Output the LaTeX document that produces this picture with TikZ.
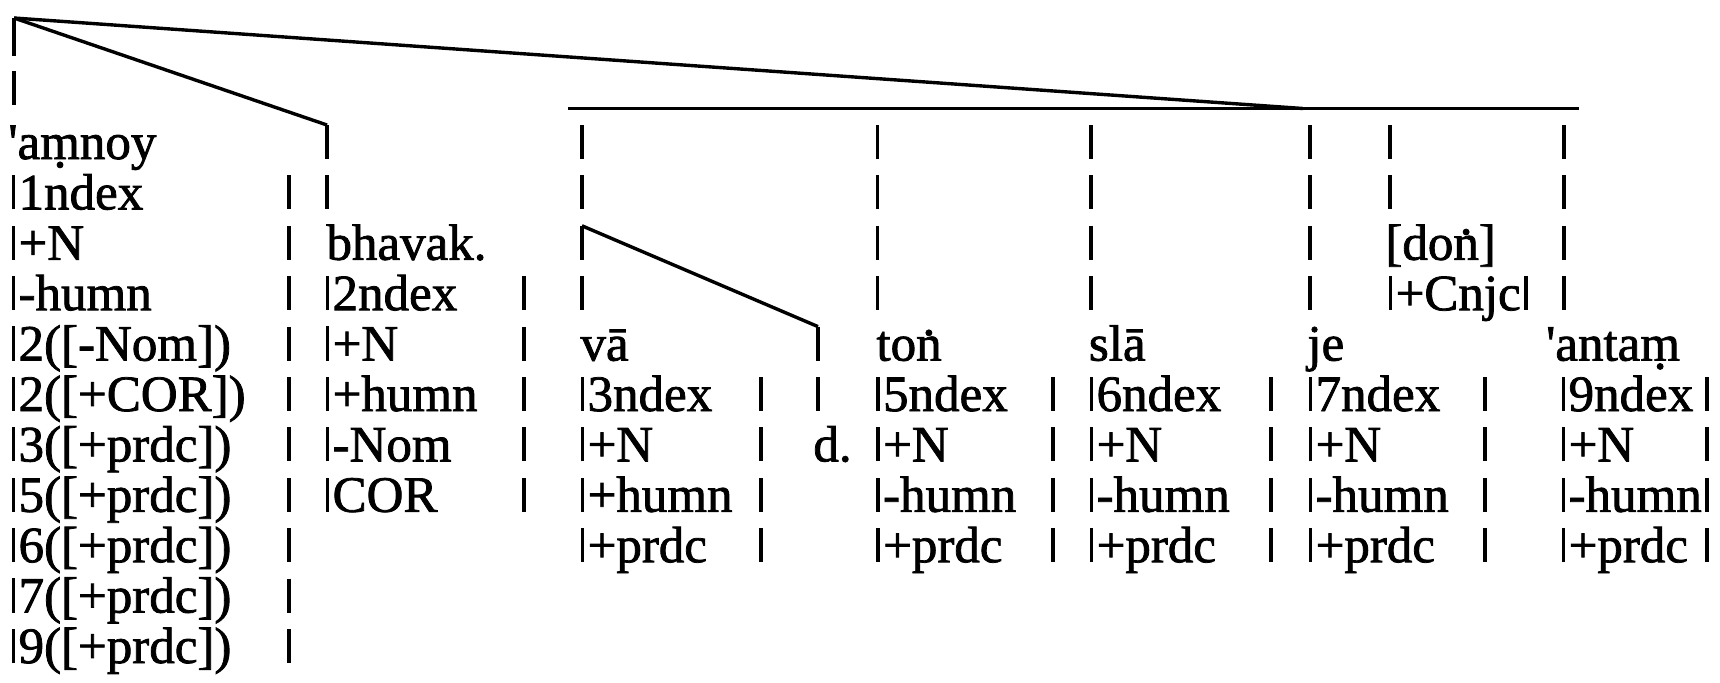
\documentclass[tikz,border=0pt]{standalone}
\usepackage{fontspec}
\setmainfont{Liberation Serif}[FakeBold=1.5]
\usetikzlibrary{calc}

\newcommand{\pipe}{\hspace{0.067em}\rule{0.068em}{0.67em}\hspace{0.065em}}
\newcommand{\dotunder}[1]{\ooalign{#1\cr\hidewidth\raisebox{-0.16em}{.}\hidewidth\cr}}
\newcommand{\dotover}[1]{\ooalign{#1\cr\hidewidth\raisebox{0.5em}{.}\hidewidth\cr}}

\begin{document}
\begin{tikzpicture}[x=0.5pt,y=-0.5pt,
	tree/.style={line width=1.7pt},
	bars/.style={line width=1.75pt, dash pattern=on 17pt off 8.2pt},
	topbars/.style={line width=1.7pt, dash pattern=on 19pt off 7.5pt on 17pt off 10pt},
	feat/.style={anchor=base west, inner sep=0pt, align=left, font=\fontsize{25.5pt}{25.2pt}\selectfont}]
	\useasboundingbox (0,0) rectangle (1720,682);
	% baselines and bar tops of the rows
	\foreach \k in {0,...,10} {
		\coordinate (r\k) at (0,{159+50.4*\k});
		\coordinate (t\k) at (0,{125+50.4*\k});
	}
	\coordinate (apex) at (14,18);
	\coordinate (join) at (1303,108.5);
	\coordinate (hlL) at (568,108.5);
	\coordinate (hlR) at (1579,108.5);
	\coordinate (cbh) at (327,108.5);
	\coordinate (cva) at (582,108.5);
	\coordinate (cd) at (818,108.5);
	\coordinate (cton) at (877.5,108.5);
	\coordinate (csla) at (1091,108.5);
	\coordinate (cje) at (1310,108.5);
	\coordinate (cdon) at (1390,108.5);
	\coordinate (cant) at (1564,108.5);

	% words with their features (placed at the baseline of the last line)
	\node[feat] (amnoy) at (8,663) {\textquotesingle a\dotunder{m}noy\\\pipe1ndex\\\pipe+N\\\pipe-humn\\\pipe2([-Nom])\\\pipe2([+COR])\\\pipe3([+prdc])\\\pipe5([+prdc])\\\pipe6([+prdc])\\\pipe7([+prdc])\\\pipe9([+prdc])};
	\node[feat] (bhavak) at (322,511.8) {\hspace{0.08em}bhavak.\\\pipe2ndex\\\pipe+N\\\pipe+humn\\\pipe-Nom\\\pipe COR};
	\node[feat] (va) at (577,562.2) {\hspace{0.06em}v\={a}\\\pipe3ndex\\\pipe+N\\\pipe+humn\\\pipe+prdc};
	\node[feat] (d) at (813,461.4) {d.};
	\node[feat] (ton) at (872.5,562.2) {\hspace{0.07em}to\dotover{n}\\\pipe5ndex\\\pipe+N\\\pipe-humn\\\pipe+prdc};
	\node[feat] (sla) at (1086,562.2) {\hspace{0.05em}sl\={a}\\\pipe6ndex\\\pipe+N\\\pipe-humn\\\pipe+prdc};
	\node[feat] (je) at (1305,562.2) {\hspace{0.04em}je\\\pipe7ndex\\\pipe+N\\\pipe-humn\\\pipe+prdc};
	\node[feat] (don) at (1385,310.2) {[do\dotover{n}]\\\pipe+Cnjc\pipe};
	\node[feat] (antam) at (1558,562.2) {\hspace{-0.24em}\textquotesingle anta\dotunder{m}\\\pipe9ndex\\\pipe+N\\\pipe-humn\\\pipe+prdc};

	% tree lines
	\draw[tree] (apex) -- (join);
	\draw[tree] (hlL) -- (hlR);
	\draw[tree] (apex) -- (cbh |- t0);
	\draw[bars] (cbh |- t0) -- (cbh |- r1);
	\draw[topbars] (apex) -- (apex |- t0);
	\draw[bars] (cva |- t0) -- (cva |- r3);
	\draw[tree] (cva |- t2) -- (cd |- t4);
	\draw[bars] (cd |- t4) -- (cd |- r5);
	\draw[bars] (cton |- t0) -- (cton |- r3);
	\draw[bars] (csla |- t0) -- (csla |- r3);
	\draw[bars] (cje |- t0) -- (cje |- r3);
	\draw[bars] (cdon |- t0) -- (cdon |- r1);
	\draw[bars] (cant |- t0) -- (cant |- r3);
	% right edges of the feature lists
	\foreach \x/\a/\b in {289/1/10,524/3/7,761/5/8,1053/5/8,1271/5/8,1485/5/8,1707/5/8}
		\draw[bars] ([shift={(\x,0)}]t\a) -- ([shift={(\x,0)}]r\b);
\end{tikzpicture}
\end{document}
